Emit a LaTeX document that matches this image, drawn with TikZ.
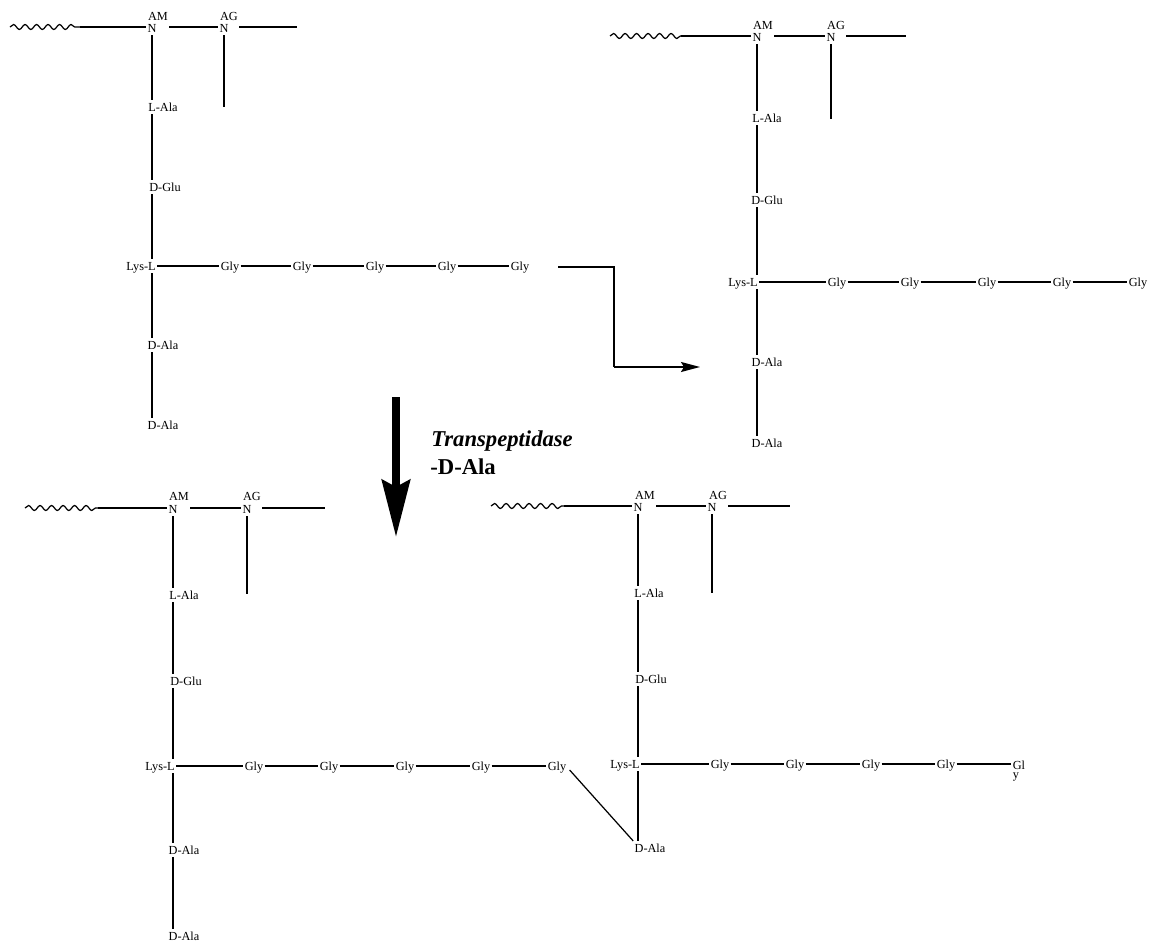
\documentclass[tikz,border=0pt]{standalone}
\usepackage{fontspec}
\setmainfont{Liberation Serif}
\usetikzlibrary{arrows.meta,decorations.pathmorphing}
\tikzset{
lbl/.style={inner xsep=0.6pt,inner ysep=0.2pt,font=\fontsize{7}{7}\selectfont,text height=6pt,text depth=1.2pt},
bond/.style={line width=0.9pt},
wavy/.style={line width=0.7pt,decorate,decoration={snake,amplitude=0.05cm,segment length=0.23cm}},
}
\begin{document}
\begin{tikzpicture}[x=0.02cm,y=-0.02cm]
\useasboundingbox (0,0) rectangle (1154,943);
% top left
\node[lbl] (am1) at (158,16) {AM};
\node[lbl] (n1) at (152,28) {N};
\node[lbl] (ag1) at (229,16) {AG};
\node[lbl] (nb1) at (224,28) {N};
\node[lbl] (la1) at (163,107) {L-Ala};
\node[lbl] (dg1) at (165,187) {D-Glu};
\node[lbl] (ly1) at (141,266) {Lys-L};
\node[lbl] (g11) at (230,266) {Gly};
\node[lbl] (g12) at (302,266) {Gly};
\node[lbl] (g13) at (375,266) {Gly};
\node[lbl] (g14) at (447,266) {Gly};
\node[lbl] (g15) at (520,266) {Gly};
\node[lbl] (da1) at (163,345) {D-Ala};
\node[lbl] (db1) at (163,425) {D-Ala};
\coordinate (w1) at (10,27);
\coordinate (v1) at (80,27);
\coordinate (e1) at (297,27);
\coordinate (t1) at (224,107);
\draw[wavy] (w1)--(v1);
\draw[bond] (v1)--(n1.west |- v1);
\draw[bond] (am1.east |- v1)--(nb1.west |- v1);
\draw[bond] (ag1.east |- v1)--(e1);
\draw[bond] (nb1.south)--(t1);
\draw[bond] (n1.south)--(n1.south |- la1.north);
\draw[bond] (n1.south |- la1.south)--(n1.south |- dg1.north);
\draw[bond] (n1.south |- dg1.south)--(n1.south |- ly1.north);
\draw[bond] (n1.south |- ly1.south)--(n1.south |- da1.north);
\draw[bond] (n1.south |- da1.south)--(n1.south |- db1.north);
\draw[bond] (ly1.east)--(g11.west);
\draw[bond] (g11.east)--(g12.west);
\draw[bond] (g12.east)--(g13.west);
\draw[bond] (g13.east)--(g14.west);
\draw[bond] (g14.east)--(g15.west);
% top right
\node[lbl] (am2) at (763,25) {AM};
\node[lbl] (n2) at (757,37) {N};
\node[lbl] (ag2) at (836,25) {AG};
\node[lbl] (nb2) at (831,37) {N};
\node[lbl] (la2) at (767,118) {L-Ala};
\node[lbl] (dg2) at (767,200) {D-Glu};
\node[lbl] (ly2) at (743,282) {Lys-L};
\node[lbl] (g21) at (837,282) {Gly};
\node[lbl] (g22) at (910,282) {Gly};
\node[lbl] (g23) at (987,282) {Gly};
\node[lbl] (g24) at (1062,282) {Gly};
\node[lbl] (g25) at (1138,282) {Gly};
\node[lbl] (da2) at (767,362) {D-Ala};
\node[lbl] (db2) at (767,443) {D-Ala};
\coordinate (w2) at (610,36);
\coordinate (v2) at (681,36);
\coordinate (e2) at (906,36);
\coordinate (t2) at (831,119);
\draw[wavy] (w2)--(v2);
\draw[bond] (v2)--(n2.west |- v2);
\draw[bond] (am2.east |- v2)--(nb2.west |- v2);
\draw[bond] (ag2.east |- v2)--(e2);
\draw[bond] (nb2.south)--(t2);
\draw[bond] (n2.south)--(n2.south |- la2.north);
\draw[bond] (n2.south |- la2.south)--(n2.south |- dg2.north);
\draw[bond] (n2.south |- dg2.south)--(n2.south |- ly2.north);
\draw[bond] (n2.south |- ly2.south)--(n2.south |- da2.north);
\draw[bond] (n2.south |- da2.south)--(n2.south |- db2.north);
\draw[bond] (ly2.east)--(g21.west);
\draw[bond] (g21.east)--(g22.west);
\draw[bond] (g22.east)--(g23.west);
\draw[bond] (g23.east)--(g24.west);
\draw[bond] (g24.east)--(g25.west);
% bottom left
\node[lbl] (am3) at (179,496) {AM};
\node[lbl] (n3) at (173,509) {N};
\node[lbl] (ag3) at (252,496) {AG};
\node[lbl] (nb3) at (247,509) {N};
\node[lbl] (la3) at (184,595) {L-Ala};
\node[lbl] (dg3) at (186,681) {D-Glu};
\node[lbl] (ly3) at (160,766) {Lys-L};
\node[lbl] (g31) at (254,766) {Gly};
\node[lbl] (g32) at (329,766) {Gly};
\node[lbl] (g33) at (405,766) {Gly};
\node[lbl] (g34) at (481,766) {Gly};
\node[lbl] (g35) at (557,766) {Gly};
\node[lbl] (da3) at (184,850) {D-Ala};
\node[lbl] (db3) at (184,936) {D-Ala};
\coordinate (w3) at (25,508);
\coordinate (v3) at (98,508);
\coordinate (e3) at (325,508);
\coordinate (t3) at (247,594);
\draw[wavy] (w3)--(v3);
\draw[bond] (v3)--(n3.west |- v3);
\draw[bond] (am3.east |- v3)--(nb3.west |- v3);
\draw[bond] (ag3.east |- v3)--(e3);
\draw[bond] (nb3.south)--(t3);
\draw[bond] (n3.south)--(n3.south |- la3.north);
\draw[bond] (n3.south |- la3.south)--(n3.south |- dg3.north);
\draw[bond] (n3.south |- dg3.south)--(n3.south |- ly3.north);
\draw[bond] (n3.south |- ly3.south)--(n3.south |- da3.north);
\draw[bond] (n3.south |- da3.south)--(n3.south |- db3.north);
\draw[bond] (ly3.east)--(g31.west);
\draw[bond] (g31.east)--(g32.west);
\draw[bond] (g32.east)--(g33.west);
\draw[bond] (g33.east)--(g34.west);
\draw[bond] (g34.east)--(g35.west);
% bottom right
\node[lbl] (am4) at (645,495) {AM};
\node[lbl] (n4) at (638,507) {N};
\node[lbl] (ag4) at (718,495) {AG};
\node[lbl] (nb4) at (712,507) {N};
\node[lbl] (la4) at (649,593) {L-Ala};
\node[lbl] (dg4) at (651,679) {D-Glu};
\node[lbl] (ly4) at (625,764) {Lys-L};
\node[lbl] (g41) at (720,764) {Gly};
\node[lbl] (g42) at (795,764) {Gly};
\node[lbl] (g43) at (871,764) {Gly};
\node[lbl] (g44) at (946,764) {Gly};
\node[inner sep=0.6pt,font=\fontsize{7}{5.5}\selectfont,align=left] (g45) at (1019,771) {Gl\\y};
\node[lbl] (da4) at (650,848) {D-Ala};
\coordinate (w4) at (491,506);
\coordinate (v4) at (564,506);
\coordinate (e4) at (790,506);
\coordinate (t4) at (712,593);
\draw[wavy] (w4)--(v4);
\draw[bond] (v4)--(n4.west |- v4);
\draw[bond] (am4.east |- v4)--(nb4.west |- v4);
\draw[bond] (ag4.east |- v4)--(e4);
\draw[bond] (nb4.south)--(t4);
\draw[bond] (n4.south)--(n4.south |- la4.north);
\draw[bond] (n4.south |- la4.south)--(n4.south |- dg4.north);
\draw[bond] (n4.south |- dg4.south)--(n4.south |- ly4.north);
\draw[bond] (n4.south |- ly4.south)--(n4.south |- da4.north);
\draw[bond] (ly4.east)--(g41.west);
\draw[bond] (g41.east)--(g42.west);
\draw[bond] (g42.east)--(g43.west);
\draw[bond] (g43.east)--(g44.west);
\draw[bond] (g44.east)--(g45.west |- g44.east);
\draw[line width=0.7pt] (g35.east)++(2,4)--(da4.north west);
% arrows
\coordinate (s1) at (558,267);
\coordinate (s2) at (614,267);
\coordinate (s3) at (614,367);
\coordinate (s4) at (700,367);
\draw[bond] (s1)--(s2)--(s3);
\draw[bond,-{Stealth[length=0.38cm,width=0.2cm,inset=0.06cm]}] (s3)--(s4);
\coordinate (f1) at (396,397);
\coordinate (f2) at (396,537);
\draw[line width=4.5pt,-{Stealth[length=1.14cm,width=0.56cm,inset=0.14cm]}] (f1)--(f2);
\node[anchor=west,inner sep=0pt,font=\fontsize{12.9}{14}\selectfont\bfseries\itshape] (tp) at (431,441) {Transpeptidase};
\node[anchor=west,inner sep=0pt,font=\fontsize{12.9}{14}\selectfont\bfseries] (mda) at (430,467) {-D-Ala};
\end{tikzpicture}
\end{document}
